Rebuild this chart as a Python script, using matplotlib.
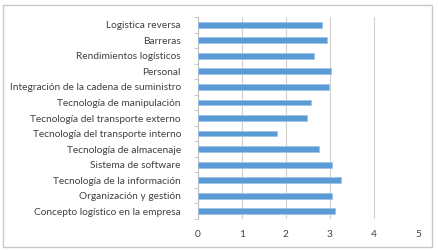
import matplotlib.pyplot as plt
from matplotlib.patches import Rectangle

# categorias de abajo hacia arriba
categorias = [
    'Concepto logístico en la empresa',
    'Organización y gestión',
    'Tecnología de la información',
    'Sistema de software',
    'Tecnología de almacenaje',
    'Tecnología del transporte interno',
    'Tecnología del transporte externo',
    'Tecnología de manipulación',
    'Integración de la cadena de suministro',
    'Personal',
    'Rendimientos logísticos',
    'Barreras',
    'Logistica reversa',
]
valores = [3.12, 3.06, 3.25, 3.06, 2.76, 1.80, 2.49, 2.58, 2.98, 3.02, 2.65, 2.94, 2.83]
xticks = [0, 1, 2, 3, 4, 5]

plt.rcParams['font.family'] = ['Lato', 'DejaVu Sans']

fig = plt.figure(figsize=(4.39, 2.5), dpi=100)
ax = fig.add_axes([0.45, 0.124, 0.502, 0.808])

pos = list(range(len(categorias)))
ax.barh(pos, valores, height=0.38, color='#5B9BD5', edgecolor='#9DC3E6', linewidth=0.5, zorder=3)

ax.set_xlim(0, 5)
ax.set_ylim(-0.5, len(categorias) - 0.5)
ax.set_xticks(xticks)
ax.set_yticks(pos)
ax.set_yticklabels(categorias)
ax.tick_params(axis='y', length=0, pad=12, labelsize=7.3, labelcolor='#404040')
ax.tick_params(axis='x', length=0, pad=8, labelsize=7.3, labelcolor='#404040')
# marcas entre categorias
ax.set_yticks([p - 0.5 for p in pos] + [len(categorias) - 0.5], minor=True)
ax.tick_params(axis='y', which='minor', length=3, color='#BFBFBF', width=0.6)

ax.grid(axis='x', color='#D0D0D0', linewidth=0.8, zorder=0)
for s in ['top', 'right', 'bottom']:
    ax.spines[s].set_visible(False)
ax.spines['left'].set_color('#BFBFBF')
ax.spines['left'].set_linewidth(0.8)

# marco del grafico
fig.patches.append(Rectangle((3 / 439, 1 - 247 / 250), 429 / 439, 242 / 250,
                             transform=fig.transFigure, fill=False,
                             edgecolor='#C8C8C8', linewidth=1))

fig.savefig('out.png', dpi=100)
